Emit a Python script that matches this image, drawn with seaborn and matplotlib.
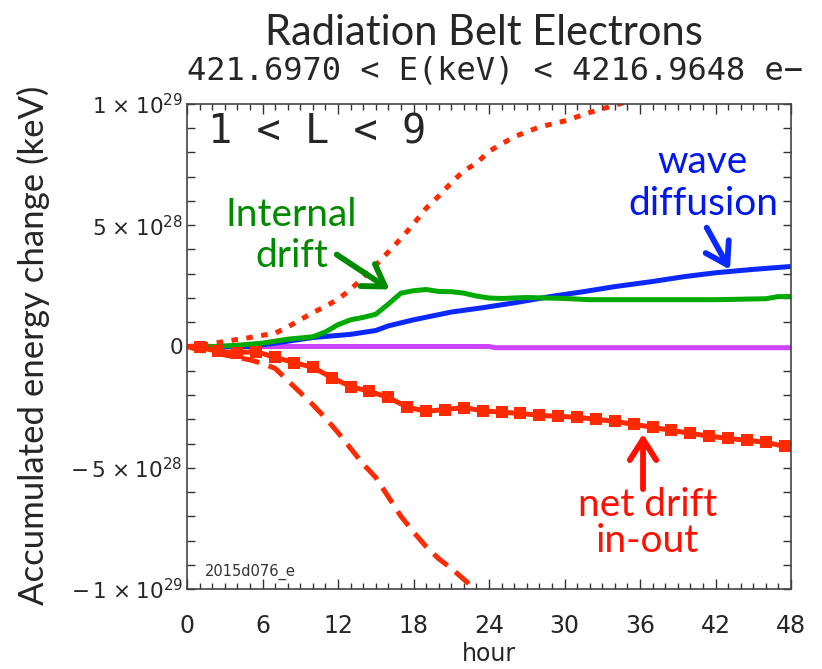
import numpy as np
import pandas as pd
import seaborn as sns
import matplotlib
matplotlib.use("Agg")
import matplotlib.pyplot as plt
from matplotlib.ticker import FixedLocator, MultipleLocator

# ---------------- data (values in units of 1e28 keV) ----------------
SCALE = 1e28

gain_hours = [0, 1, 3, 5, 7, 8, 9, 10, 11, 12, 13, 14, 15, 16, 17, 18, 19, 20,
              21, 22, 23, 24, 26, 28, 30, 32, 34, 36]
gain_values = [0, 0.03, 0.21, 0.37, 0.55, 0.8, 1.1, 1.40, 1.65, 1.95, 2.35, 2.85,
               3.35, 3.9, 4.45, 5.05, 5.7, 6.2, 6.75, 7.25, 7.55, 8.05, 8.65,
               9.05, 9.3, 9.65, 9.95, 10.25]

loss_hours = [0, 1, 3, 5, 6, 7, 8, 9, 10, 11, 12, 13, 14, 15, 16, 17, 18, 19,
              20, 21, 22, 23]
loss_values = [0, -0.15, -0.35, -0.55, -0.7, -0.9, -1.4, -1.9, -2.4, -2.95,
               -3.55, -4.2, -4.85, -5.4, -6.2, -7.0, -7.65, -8.25, -8.75, -9.15,
               -9.6, -10.05]

internal_hours = [0, 2, 4, 6, 8, 10, 11, 12, 13, 14, 15, 16, 17, 18, 19, 20, 21,
                  22, 23, 24, 25, 27, 30, 32, 37, 42, 46, 47, 48]
internal_values = [0, 0, 0.05, 0.14, 0.3, 0.4, 0.6, 0.9, 1.1, 1.2, 1.33, 1.75,
                   2.2, 2.3, 2.35, 2.27, 2.26, 2.2, 2.08, 2.0, 1.98, 2.02, 1.98,
                   1.93, 1.93, 1.93, 1.97, 2.06, 2.06]

wave_hours = [0, 5, 7, 10, 13, 15, 16, 18, 21, 23.5, 26, 28, 29, 31.5, 34, 37,
              39.5, 42, 45, 48]
wave_values = [0, 0, 0.14, 0.37, 0.5, 0.66, 0.85, 1.1, 1.42, 1.6, 1.8, 1.98,
               2.07, 2.26, 2.47, 2.68, 2.88, 3.04, 3.18, 3.3]

other_hours = [0, 24, 24.5, 48]
other_values = [0, 0, -0.05, -0.05]

net_hours = [1, 2.5, 4, 5.5, 7, 8.5, 10, 11.5, 13, 14.5, 16, 17.5, 19, 20.5, 22,
             23.5, 25, 26.5, 28, 29.5, 31, 32.5, 34, 35.5, 37, 38.5, 40, 41.5,
             43, 44.5, 46, 47.5]
net_values = [-0.04, -0.2, -0.25, -0.21, -0.45, -0.66, -0.86, -1.28, -1.65,
              -1.85, -2.1, -2.5, -2.67, -2.6, -2.52, -2.65, -2.71, -2.76, -2.84,
              -2.88, -2.92, -3.0, -3.09, -3.21, -3.33, -3.46, -3.58, -3.7,
              -3.79, -3.87, -3.95, -4.12]

x_ticks = [0, 6, 12, 18, 24, 30, 36, 42, 48]
y_ticks = [-1e29, -5e28, 0, 5e28, 1e29]
y_tick_labels = [r"$-\,1\;{\times}\;10^{29}$", r"$-\,5\;{\times}\;10^{28}$",
                 "0", r"$5\;{\times}\;10^{28}$", r"$1\;{\times}\;10^{29}$"]

# ---------------- style ----------------
sns.set_style("ticks")
plt.rcParams["font.family"] = ["DejaVu Sans"]
plt.rcParams["mathtext.fontset"] = "dejavusans"

RED = "#ff2a00"
RED_TXT = "#ff1000"
BLUE = "#0a28ff"
BLUE_TXT = "#0018f0"
GREEN = "#00aa00"
GREEN_TXT = "#008a00"
PURPLE = "#cc44ff"
SANS = ["Lato", "DejaVu Sans"]
MONO = ["DejaVu Sans Mono"]

W, H = 822, 669
fig = plt.figure(figsize=(W / 100, H / 100), dpi=100)
ax = fig.add_axes([187 / W, 1 - 589 / H, (791 - 187) / W, (589 - 104) / H])

def df(h, v):
    return pd.DataFrame({"hour": h, "val": np.asarray(v) * SCALE})

lw = 3.6
sns.lineplot(data=df(other_hours, other_values), x="hour", y="val", ax=ax,
             color=PURPLE, lw=lw, sort=False, estimator=None)
sns.lineplot(data=df(wave_hours, wave_values), x="hour", y="val", ax=ax,
             color=BLUE, lw=lw, sort=False, estimator=None)
sns.lineplot(data=df(internal_hours, internal_values), x="hour", y="val", ax=ax,
             color=GREEN, lw=lw, sort=False, estimator=None)
sns.lineplot(data=df(gain_hours, gain_values), x="hour", y="val", ax=ax,
             color=RED, lw=lw, sort=False, estimator=None)
ax.lines[-1].set_dashes([1.3, 1.7])
sns.lineplot(data=df(loss_hours, loss_values), x="hour", y="val", ax=ax,
             color=RED, lw=lw, sort=False, estimator=None)
ax.lines[-1].set_dashes([3.6, 2.0])
sns.lineplot(data=df(net_hours, net_values), x="hour", y="val", ax=ax,
             color=RED, lw=lw, sort=False, estimator=None,
             marker="s", markersize=8.5, markeredgewidth=0)

ax.set_xlim(0, 48)
ax.set_ylim(-1e29, 1e29)
ax.xaxis.set_major_locator(FixedLocator(x_ticks))
ax.xaxis.set_minor_locator(MultipleLocator(1))
ax.set_yticks(y_ticks)
ax.set_yticklabels(y_tick_labels)
ax.yaxis.set_minor_locator(MultipleLocator(1e28))
ax.tick_params(which="both", direction="in", top=True, right=True,
               color="#333333", width=1)
ax.tick_params(axis="x", which="major", length=7, labelsize=17, pad=18)
ax.tick_params(axis="x", which="minor", length=4)
ax.tick_params(axis="y", which="major", length=6, labelsize=15.5, pad=3)
ax.tick_params(axis="y", which="minor", length=6)
for s in ax.spines.values():
    s.set_color("#444444")
    s.set_linewidth(1.2)

ax.set_xlabel("hour", fontsize=17, labelpad=3)
ax.set_ylabel("Accumulated energy change (keV)", fontsize=25, family=SANS)
ax.yaxis.set_label_coords((50 - 187) / 604, 0.503)

fig.text(484 / W, 1 - 33 / H, "Radiation Belt Electrons", ha="center",
         va="center", fontsize=30, family=SANS)
fig.text(495 / W, 1 - 71 / H, "421.6970 < E(keV) < 4216.9648 e\u2212",
         ha="center", va="center", fontsize=23, family=MONO)

ax.text((208 - 187) / 604, (589 - 133) / 485, "1 < L < 9",
        transform=ax.transAxes, fontsize=29, family=MONO, va="center",
        ha="left")
ax.text((205 - 187) / 604, (589 - 580) / 485, "2015d076_e",
        transform=ax.transAxes, fontsize=10.5, color="#333333", va="bottom")

# annotations (placed in data coordinates)
def label(x, y, s, color):
    ax.text(x, y * SCALE, s, color=color, fontsize=28, family=SANS,
            ha="center", va="baseline")

def arrow(x0, y0, x1, y1, color):
    ax.annotate("", xy=(x1, y1 * SCALE), xytext=(x0, y0 * SCALE),
                arrowprops=dict(arrowstyle="->,head_length=0.6,head_width=0.38",
                                color=color, lw=4.2, mutation_scale=25,
                                shrinkA=0, shrinkB=0))

label(8.3, 4.95, "Internal", GREEN_TXT)
label(8.3, 3.26, "drift", GREEN_TXT)
arrow(11.9, 3.79, 16.1, 2.35, GREEN_TXT)

label(41.0, 7.16, "wave", BLUE_TXT)
label(41.0, 5.43, "diffusion", BLUE_TXT)
arrow(41.3, 4.9, 43.15, 3.17, BLUE)

label(36.6, -7.0, "net drift", RED_TXT)
label(36.6, -8.48, "in-out", RED_TXT)
arrow(36.24, -5.88, 36.24, -3.6, RED_TXT)

fig.savefig("out.png", dpi=100)
